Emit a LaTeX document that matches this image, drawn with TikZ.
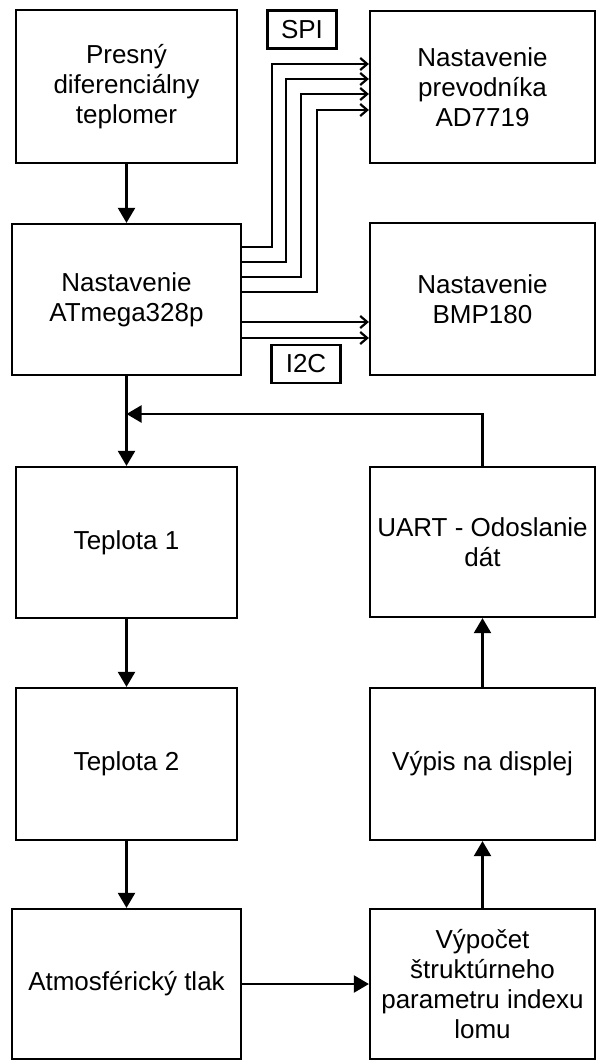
\documentclass[tikz,border=0pt]{standalone}
\usepackage{fontspec}
\setmainfont{Liberation Sans}
\usetikzlibrary{arrows.meta}

\begin{document}
\begin{tikzpicture}[x=1pt, y=-1pt, line width=2.2pt,
    blok/.style={draw, inner sep=0pt, align=center,
      font=\fontsize{26}{30}\selectfont},
    zbernica/.style={draw, inner sep=0pt, minimum width=69pt,
      minimum height=38pt, font=\fontsize{26}{30}\selectfont},
    vodic/.style={-{Straight Barb[length=7pt,width=12pt]}},
    >={Triangle[length=15pt,width=17pt]}]

  \useasboundingbox (0,0) rectangle (598,1060);

  % lavy stlpec
  \node[blok, minimum width=221pt, minimum height=153pt] (pres) at (126.5,86.5) {Presný\\diferenciálny\\teplomer};
  \node[blok, minimum width=229pt, minimum height=151pt] (atm) at (126.5,299.5) {Nastavenie\\ATmega328p};
  \node[blok, minimum width=221pt, minimum height=151pt] (t1) at (126.5,542.5) {Teplota 1};
  \node[blok, minimum width=221pt, minimum height=152pt] (t2) at (126.5,764) {Teplota 2};
  \node[blok, minimum width=229pt, minimum height=150pt] (atmos) at (126.5,984) {Atmosférický tlak};

  % pravy stlpec
  \node[blok, minimum width=225pt, minimum height=152pt] (adc) at (482.5,87) {Nastavenie\\prevodníka\\AD7719};
  \node[blok, minimum width=225pt, minimum height=152pt] (bmp) at (482.5,299) {Nastavenie\\BMP180};
  \node[blok, minimum width=225pt, minimum height=150pt] (uart) at (482.5,542) {UART - Odoslanie\\dát};
  \node[blok, minimum width=225pt, minimum height=152pt] (vypis) at (482.5,764) {Výpis na displej};
  \node[blok, minimum width=225pt, minimum height=150pt] (vyp) at (482.5,984) {Výpočet\\štruktúrneho\\parametru indexu\\lomu};

  \node[zbernica] (spi) at (302,29.5) {SPI};
  \node[zbernica] (iic) at (306,364) {I2C};

  \draw[->] (pres) -- (atm);
  \draw[->] (atm) -- (t1);
  \draw[->] (t1) -- (t2);
  \draw[->] (t2) -- (atmos);
  \draw[->] (atmos) -- (vyp);
  \draw[->] (vyp) -- (vypis);
  \draw[->] (vypis) -- (uart);
  \coordinate (spoj) at (atm.south |- 0,414);
  \draw[->] (uart) |- (spoj);

  \foreach \ya/\xm/\yb in {247/272/64, 262/286/79, 277/301/94, 292/317/110}
    \draw[vodic] (atm.east |- 0,\ya) -| (\xm,\yb) -- (adc.west |- 0,\yb);
  \foreach \yc in {322,338}
    \draw[vodic] (atm.east |- 0,\yc) -- (bmp.west |- 0,\yc);
\end{tikzpicture}
\end{document}
